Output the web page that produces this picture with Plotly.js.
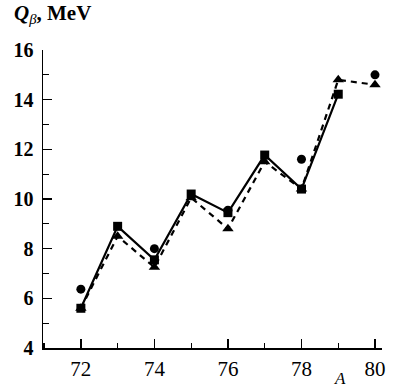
<!DOCTYPE html>
<html>
<head>
<meta charset="utf-8">
<script src="https://cdn.plot.ly/plotly-3.0.1.min.js"></script>
<style>html,body{margin:0;padding:0;background:#fff;}#chart{width:404px;height:387px;}</style>
</head>
<body>
<div id="chart"></div>
<script>
// Mass number A
const massA = [72, 73, 74, 75, 76, 77, 78, 79, 80];
// Circles (visible only at even A)
const circleA = [72, 74, 76, 78, 80];
const circleQ = [6.37, 8.0, 9.55, 11.6, 15.0];
// Squares, solid line
const squareA = [72, 73, 74, 75, 76, 77, 78, 79];
const squareQ = [5.6, 8.9, 7.55, 10.2, 9.45, 11.77, 10.4, 14.22];
// Triangles, dashed line
const triA = [72, 73, 74, 75, 76, 77, 78, 79, 80];
const triQ = [5.6, 8.5, 7.25, 10.05, 8.8, 11.5, 10.4, 14.8, 14.6];
// Tick values
const xTicks = [72, 74, 76, 78, 80];
const yTicks = [4, 6, 8, 10, 12, 14, 16];

const traces = [
  {x: triA, y: triQ, mode: 'lines+markers', type: 'scatter',
   line: {color: '#000', width: 2.2, dash: '6px,5px'},
   marker: {symbol: 'triangle-up', size: 10, color: '#000'}},
  {x: squareA, y: squareQ, mode: 'lines+markers', type: 'scatter',
   line: {color: '#000', width: 2.2},
   marker: {symbol: 'square', size: 9, color: '#000'}},
  {x: circleA, y: circleQ, mode: 'markers', type: 'scatter',
   marker: {symbol: 'circle', size: 9, color: '#000'}}
];

const layout = {
  width: 404, height: 387,
  margin: {l: 43, r: 22, t: 50, b: 39, pad: 0},
  paper_bgcolor: '#fff', plot_bgcolor: '#fff',
  showlegend: false,
  font: {family: '"Liberation Serif", "Times New Roman", serif', color: '#000', size: 16},
  xaxis: {
    range: [70.97, 80.19], tickvals: xTicks, ticktext: xTicks.map(String),
    ticks: 'inside', ticklen: 9, tickwidth: 1.3, tickcolor: '#000',
    minor: {dtick: 1, tick0: 71, ticks: 'inside', ticklen: 5, tickwidth: 1.3, tickcolor: '#000'},
    showline: true, linecolor: '#000', linewidth: 1.5, mirror: false,
    showgrid: false, zeroline: false,
    tickfont: {size: 21, family: '"Liberation Serif", serif'},
    ticklabelstandoff: 1
  },
  yaxis: {
    range: [4, 16], tickvals: yTicks, ticktext: yTicks.map(v => '<b>' + v + '</b>'),
    ticks: 'inside', ticklen: 9, tickwidth: 1.3, tickcolor: '#000',
    minor: {dtick: 1, tick0: 5, ticks: 'inside', ticklen: 6, tickwidth: 1.3, tickcolor: '#000'},
    showline: true, linecolor: '#000', linewidth: 1.5, mirror: false,
    showgrid: false, zeroline: false,
    tickfont: {size: 20, family: '"Liberation Serif", serif'},
    ticklabelstandoff: 4
  },
  annotations: [
    {xref: 'paper', yref: 'paper', x: 0, y: 1, xshift: -31, yshift: 21,
     xanchor: 'left', yanchor: 'bottom', showarrow: false,
     text: '<b><i>Q</i></b><sub><i>β</i></sub><b>, MeV</b>',
     font: {size: 21, family: '"Liberation Serif", serif', color: '#000'}},
    {xref: 'x', yref: 'paper', x: 79.05, y: 0, yshift: -19,
     xanchor: 'center', yanchor: 'top', showarrow: false,
     text: '<i>A</i>',
     font: {size: 17, family: '"Liberation Serif", serif', color: '#000'}}
  ]
};

Plotly.newPlot('chart', traces, layout, {displayModeBar: false, staticPlot: true});
</script>
</body>
</html>
